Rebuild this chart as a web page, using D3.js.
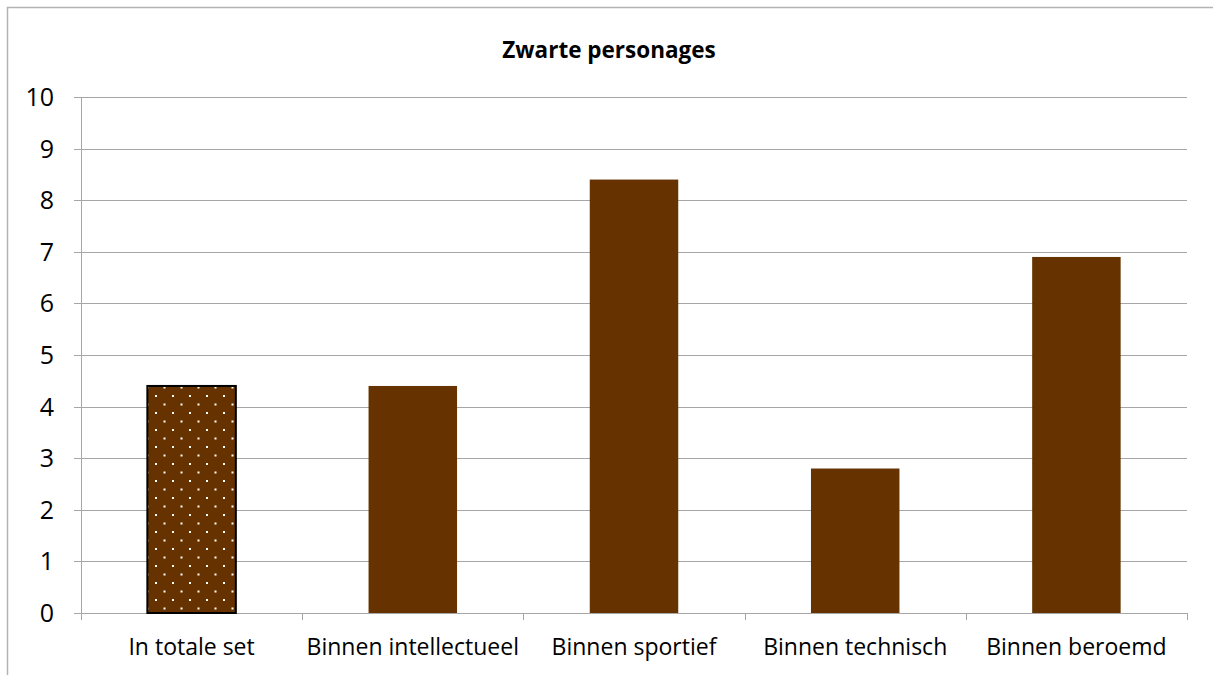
<!DOCTYPE html>
<html>
<head>
<meta charset="utf-8">
<script src="https://cdn.jsdelivr.net/npm/d3@7"></script>
<style>
  html, body { margin: 0; padding: 0; background: #fff; }
  svg { display: block; }
  text { font-family: "Open Sans", Lato, sans-serif; fill: #000; }
</style>
</head>
<body>
<script>
const title = "Zwarte personages";
const categories = ["In totale set", "Binnen intellectueel", "Binnen sportief", "Binnen technisch", "Binnen beroemd"];
const values = [4.4, 4.4, 8.4, 2.8, 6.9];
const patterned = [true, false, false, false, false];
const yTicks = [0, 1, 2, 3, 4, 5, 6, 7, 8, 9, 10];

const W = 1213, H = 675;
const margin = { left: 81, right: 26, top: 97, bottom: 62 };
const svg = d3.select("body").append("svg").attr("width", W).attr("height", H);

// outer chart border
svg.append("rect").attr("x", 7.5).attr("y", 7.5).attr("width", W + 20).attr("height", H + 20)
  .attr("fill", "none").attr("stroke", "#b3b3b3").attr("stroke-width", 1.5);

const defs = svg.append("defs");
const pat = defs.append("pattern").attr("id", "dots").attr("patternUnits", "userSpaceOnUse")
  .attr("width", 17).attr("height", 17).attr("x", 155).attr("y", 395);
pat.append("rect").attr("width", 17).attr("height", 17).attr("fill", "#663300");
pat.append("rect").attr("x", 0).attr("y", 0).attr("width", 2).attr("height", 2).attr("fill", "#fff");
pat.append("rect").attr("x", 8.5).attr("y", 8.5).attr("width", 2).attr("height", 2).attr("fill", "#fff");

const x = d3.scaleBand().domain(categories).range([margin.left, W - margin.right])
  .paddingInner(0.6).paddingOuter(0.3);
const y = d3.scaleLinear().domain([0, 10]).range([H - margin.bottom, margin.top]);

// gridlines
svg.append("g").selectAll("line").data(yTicks).join("line")
  .attr("x1", margin.left - 7).attr("x2", W - margin.right)
  .attr("y1", d => Math.round(y(d)) + 0.5).attr("y2", d => Math.round(y(d)) + 0.5)
  .attr("stroke", "#a6a6a6").attr("stroke-width", 1);

// y axis line
svg.append("line").attr("x1", margin.left + 0.5).attr("x2", margin.left + 0.5)
  .attr("y1", y(10)).attr("y2", y(0)).attr("stroke", "#a6a6a6");

// x tick marks at band boundaries
const bounds = d3.range(categories.length + 1).map(i => margin.left + i * (W - margin.right - margin.left) / categories.length);
svg.append("g").selectAll("line").data(bounds).join("line")
  .attr("x1", d => Math.round(d) + 0.5).attr("x2", d => Math.round(d) + 0.5)
  .attr("y1", y(0)).attr("y2", y(0) + 7).attr("stroke", "#a6a6a6");

// y tick labels
svg.append("g").selectAll("text").data(yTicks).join("text")
  .attr("x", 54).attr("y", d => y(d)).attr("dy", "0.36em")
  .attr("text-anchor", "end").attr("font-size", 25).text(d => d);

// bars
svg.append("g").selectAll("rect").data(categories).join("rect")
  .attr("x", d => x(d)).attr("width", x.bandwidth())
  .attr("y", (d, i) => y(values[i])).attr("height", (d, i) => y(0) - y(values[i]))
  .attr("fill", (d, i) => patterned[i] ? "url(#dots)" : "#663300")
  .attr("stroke", (d, i) => patterned[i] ? "#000" : "none")
  .attr("stroke-width", 2);

// x labels
svg.append("g").selectAll("text").data(categories).join("text")
  .attr("x", d => x(d) + x.bandwidth() / 2).attr("y", y(0) + 42)
  .attr("text-anchor", "middle").attr("font-size", 23).text(d => d);

// title
svg.append("text").attr("x", 609).attr("y", 58).attr("text-anchor", "middle")
  .attr("font-size", 22.5).attr("font-weight", "bold").text(title);
</script>
</body>
</html>
